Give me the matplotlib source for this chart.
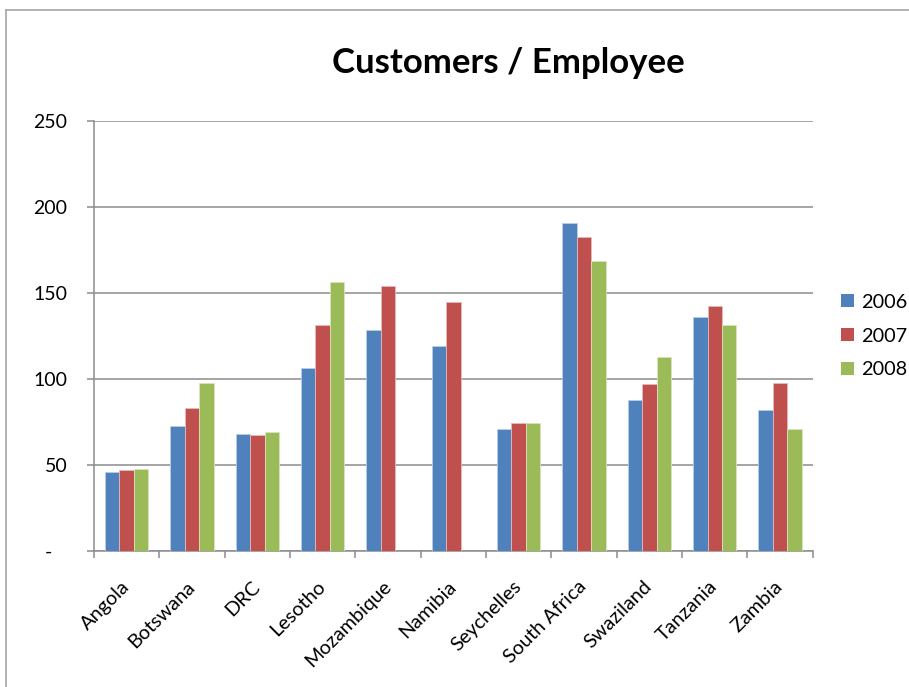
import numpy as np
import matplotlib
matplotlib.use("Agg")
import matplotlib.pyplot as plt
from matplotlib.lines import Line2D
from matplotlib.patches import Patch

plt.rcParams['font.family'] = ['Lato', 'DejaVu Sans']

# Customers per employee by country
countries = ["Angola", "Botswana", "DRC", "Lesotho", "Mozambique", "Namibia",
             "Seychelles", "South Africa", "Swaziland", "Tanzania", "Zambia"]
years = ["2006", "2007", "2008"]
v2006 = [45.8, 72.7, 68.0, 106.0, 128.5, 119.2, 70.8, 190.7, 87.4, 135.9, 82.0]
v2007 = [46.7, 82.8, 67.1, 131.2, 153.7, 144.4, 74.4, 182.4, 96.7, 142.4, 97.7]
v2008 = [47.5, 97.7, 68.8, 156.4, 0, 0, 74.4, 168.4, 112.6, 131.2, 70.8]
yticks = [0, 50, 100, 150, 200, 250]
ytick_labels = ["-   ", "50", "100", "150", "200", "250"]

colors = ["#4F81BD", "#C0504D", "#9BBB59"]
edges = ["#B9CDE5", "#E6B9B8", "#D7E4BD"]
grid_col = "#8C8C8C"

fig = plt.figure(figsize=(9.09, 6.87), dpi=100)
ax = fig.add_axes([94 / 909, 1 - 550.7 / 687, (812.7 - 94) / 909, (550.7 - 120.7) / 687])

x = np.arange(len(countries))
w = 0.22
for i, (vals, c, ec) in enumerate(zip([v2006, v2007, v2008], colors, edges)):
    ax.bar(x + (i - 1) * w, vals, width=w, color=c, edgecolor=ec, linewidth=0.6,
           label=years[i], zorder=3)

ax.set_xlim(-0.5, len(countries) - 0.5)
ax.set_ylim(0, 250)

ax.set_yticks(yticks)
ax.set_yticklabels(ytick_labels)
ax.yaxis.grid(True, color=grid_col, linewidth=1.1, zorder=0)
ax.tick_params(axis='y', length=5, width=1.1, color=grid_col, pad=14, labelsize=14)

# category labels at centres, tick marks at the boundaries
ax.set_xticks(x)
ax.set_xticklabels(countries, rotation=45, ha='right', va='center',
                   rotation_mode='anchor', fontsize=14.3)
ax.tick_params(axis='x', which='major', length=0, pad=24)
ax.set_xticks(np.arange(-0.5, len(countries)), minor=True)
ax.tick_params(axis='x', which='minor', length=5, width=1.1, color=grid_col)

for s in ['top', 'right']:
    ax.spines[s].set_visible(False)
for s in ['left', 'bottom']:
    ax.spines[s].set_color(grid_col)
    ax.spines[s].set_linewidth(1.1)

fig.text(508 / 909, 1 - 63 / 687, "Customers / Employee", ha='center', va='center',
         fontsize=25, fontweight='bold')

handles = [Patch(facecolor=c, edgecolor='none') for c in colors]
fig.legend(handles, years, loc='center left', bbox_to_anchor=(841 / 909, 1 - 336 / 687),
           frameon=False, fontsize=14.3, handlelength=0.65, handleheight=0.65,
           handletextpad=0.35, labelspacing=0.85, borderpad=0, borderaxespad=0)

# chart area border
fig.add_artist(Line2D([6 / 909, 6 / 909], [0, 1 - 10 / 687], color="#A6A6A6", linewidth=1.2))
fig.add_artist(Line2D([6 / 909, 1], [1 - 10 / 687, 1 - 10 / 687], color="#A6A6A6", linewidth=1.2))

fig.savefig("out.png", dpi=100)
